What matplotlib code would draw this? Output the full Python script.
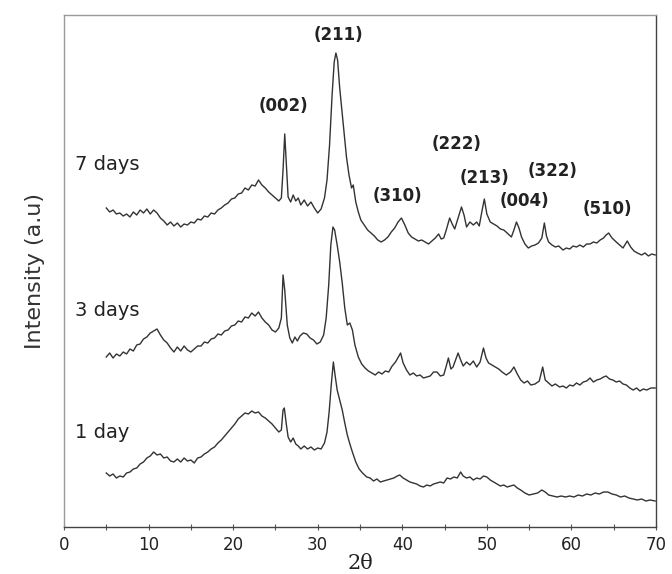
import matplotlib
matplotlib.use("Agg")
import matplotlib.pyplot as plt
from matplotlib.ticker import MultipleLocator

# ---- data (2theta, intensity in arbitrary units, stacked as in the figure) ----
tt_7d = [5.0, 5.4, 5.8, 6.2, 6.6, 7.0, 7.4, 7.8, 8.2, 8.6, 9.0, 9.4, 9.8, 10.2, 10.6, 11.0, 11.4, 11.8,
         12.2, 12.6, 13.0, 13.4, 13.8, 14.2, 14.6, 15.0, 15.4, 15.8, 16.2, 16.6, 17.0, 17.4, 17.8, 18.2,
         18.6, 19.0, 19.4, 19.8, 20.2, 20.6, 21.0, 21.4, 21.8, 22.2, 22.6, 23.0, 23.4, 23.8, 24.2, 24.6,
         25.0, 25.4, 25.7, 25.9, 26.1, 26.3, 26.5, 26.8, 27.1, 27.4, 27.7, 28.0, 28.4, 28.8, 29.2, 29.6,
         30.0, 30.4, 30.8, 31.1, 31.4, 31.7, 31.95, 32.15, 32.35, 32.6, 32.8, 33.0, 33.2, 33.4, 33.7,
         34.0, 34.2, 34.5, 34.8, 35.1, 35.5, 35.9, 36.3, 36.7, 37.1, 37.5, 37.9, 38.3, 38.7, 39.1, 39.5,
         39.9, 40.3, 40.7, 41.1, 41.5, 41.9, 42.3, 42.7, 43.1, 43.5, 43.9, 44.3, 44.6, 44.9, 45.2, 45.6,
         45.9, 46.2, 46.6, 47.0, 47.3, 47.6, 48.0, 48.4, 48.8, 49.1, 49.4, 49.7, 50.0, 50.4, 50.8, 51.2,
         51.6, 52.0, 52.4, 52.9, 53.2, 53.5, 53.8, 54.1, 54.5, 54.9, 55.3, 55.7, 56.1, 56.5, 56.8, 57.05,
         57.3, 57.7, 58.1, 58.5, 59.0, 59.4, 59.8, 60.2, 60.6, 61.0, 61.4, 61.8, 62.2, 62.6, 63.0, 63.4,
         63.8, 64.1, 64.4, 64.8, 65.3, 65.7, 66.1, 66.6, 67.0, 67.4, 67.8, 68.3, 68.7, 69.1, 69.5, 69.9]
int_7d = [319, 315, 317, 313, 314, 311, 313, 310, 315, 312, 317, 314, 318, 313, 317, 314, 309, 306,
          302, 305, 301, 304, 300, 303, 302, 305, 304, 308, 307, 311, 310, 314, 313, 317,
          319, 322, 324, 328, 329, 333, 334, 339, 337, 342, 341, 347, 342, 339, 335, 332,
          329, 326, 329, 357, 393, 362, 330, 325, 332, 326, 329, 322, 327, 321, 325, 319,
          314, 318, 329, 347, 382, 432, 465, 474, 467, 439, 422, 405, 387, 370, 352,
          339, 342, 325, 315, 307, 302, 297, 294, 291, 287, 285, 287, 290, 295, 299, 305,
          309, 302, 294, 290, 288, 286, 287, 285, 283, 286, 289, 293, 288, 289, 297, 309,
          303, 298, 309, 320, 312, 300, 305, 302, 305, 301, 315, 328, 313, 305, 303, 301,
          298, 297, 294, 290, 297, 305, 299, 290, 283, 279, 281, 282, 284, 289, 304, 291,
          285, 282, 280, 281, 277, 279, 278, 281, 280, 282, 280, 283, 283, 285, 284, 287,
          289, 292, 294, 289, 285, 282, 279, 286, 280, 276, 274, 272, 274, 271, 273, 272]

tt_3d = [5.0, 5.4, 5.8, 6.2, 6.6, 7.0, 7.4, 7.8, 8.2, 8.6, 9.0, 9.4, 9.8, 10.2, 10.6, 11.0, 11.4, 11.8,
         12.2, 12.6, 13.0, 13.4, 13.8, 14.2, 14.6, 15.0, 15.4, 15.8, 16.2, 16.6, 17.0, 17.4, 17.8, 18.2,
         18.6, 19.0, 19.4, 19.8, 20.2, 20.6, 21.0, 21.4, 21.8, 22.2, 22.6, 23.0, 23.4, 23.8, 24.2, 24.6,
         25.0, 25.4, 25.7, 25.9, 26.1, 26.4, 26.7, 27.0, 27.3, 27.6, 27.9, 28.3, 28.7, 29.1, 29.5, 29.9,
         30.3, 30.7, 31.0, 31.3, 31.55, 31.8, 32.0, 32.3, 32.6, 32.9, 33.2, 33.5, 33.8, 34.1, 34.4, 34.8,
         35.2, 35.6, 36.0, 36.4, 36.8, 37.2, 37.6, 38.0, 38.4, 38.8, 39.2, 39.6, 39.8, 40.1, 40.5, 40.9,
         41.3, 41.7, 42.1, 42.5, 42.9, 43.3, 43.7, 44.1, 44.5, 44.9, 45.2, 45.45, 45.75, 46.0, 46.3, 46.6,
         46.9, 47.2, 47.6, 48.0, 48.4, 48.8, 49.2, 49.6, 49.9, 50.2, 50.6, 51.0, 51.4, 51.8, 52.3, 52.8,
         53.2, 53.6, 54.0, 54.4, 54.8, 55.2, 55.7, 56.2, 56.6, 56.9, 57.3, 57.7, 58.1, 58.6, 59.0, 59.4,
         59.8, 60.2, 60.6, 61.0, 61.4, 61.8, 62.2, 62.6, 63.0, 63.4, 63.8, 64.1, 64.5, 64.9, 65.3, 65.7,
         66.1, 66.5, 66.9, 67.3, 67.7, 68.1, 68.5, 68.9, 69.4, 69.9]
int_3d = [170, 174, 169, 173, 171, 175, 173, 178, 176, 182, 183, 188, 190, 194, 196, 198, 192, 187,
          184, 179, 175, 180, 176, 181, 177, 175, 178, 181, 181, 185, 184, 188, 189, 193,
          192, 196, 197, 201, 202, 206, 205, 210, 209, 214, 211, 215, 209, 205, 202, 197,
          195, 199, 209, 252, 237, 202, 189, 184, 190, 186, 191, 194, 193, 189, 187, 183,
          185, 192, 209, 242, 282, 300, 297, 282, 265, 244, 219, 202, 204, 197, 182, 170,
          163, 159, 156, 154, 152, 155, 153, 156, 155, 161, 165, 171, 174, 164, 157, 152,
          154, 151, 152, 149, 150, 151, 155, 155, 151, 152, 161, 169, 158, 160, 167, 174,
          167, 161, 165, 162, 166, 160, 165, 179, 169, 164, 162, 160, 158, 155, 152, 155,
          160, 153, 147, 144, 146, 142, 143, 146, 160, 147, 144, 141, 143, 140, 141, 139,
          142, 141, 144, 142, 145, 146, 149, 145, 147, 148, 150, 151, 148, 147, 145, 146,
          143, 142, 139, 137, 139, 136, 138, 137, 139, 139]

tt_1d = [5.0, 5.4, 5.8, 6.2, 6.6, 7.0, 7.4, 7.8, 8.2, 8.6, 9.0, 9.4, 9.8, 10.2, 10.6, 11.0, 11.4, 11.8,
         12.2, 12.6, 13.0, 13.4, 13.8, 14.2, 14.6, 15.0, 15.4, 15.8, 16.2, 16.6, 17.0, 17.4, 17.8, 18.2,
         18.6, 19.0, 19.4, 19.8, 20.2, 20.6, 21.0, 21.4, 21.8, 22.2, 22.6, 23.0, 23.4, 23.8, 24.2, 24.6,
         25.0, 25.4, 25.7, 25.9, 26.05, 26.3, 26.5, 26.8, 27.1, 27.4, 27.7, 28.0, 28.4, 28.8, 29.2, 29.6,
         30.0, 30.4, 30.8, 31.1, 31.35, 31.6, 31.85, 32.05, 32.3, 32.6, 32.9, 33.2, 33.5, 33.8, 34.1,
         34.5, 34.9, 35.3, 35.8, 36.2, 36.6, 37.0, 37.4, 37.8, 38.2, 38.6, 39.0, 39.4, 39.7, 40.1, 40.5,
         40.9, 41.3, 41.7, 42.1, 42.5, 42.9, 43.3, 43.7, 44.1, 44.5, 44.9, 45.3, 45.7, 46.1, 46.5, 46.9,
         47.2, 47.6, 48.0, 48.4, 48.8, 49.2, 49.6, 50.0, 50.4, 50.8, 51.2, 51.6, 52.0, 52.4, 52.8, 53.2,
         53.6, 54.0, 54.5, 55.0, 55.5, 56.0, 56.5, 56.9, 57.3, 57.8, 58.3, 58.8, 59.3, 59.8, 60.3, 60.8,
         61.3, 61.8, 62.3, 62.8, 63.3, 63.8, 64.3, 64.8, 65.3, 65.8, 66.3, 66.8, 67.3, 67.8, 68.3, 68.8,
         69.3, 69.9]
int_1d = [54, 51, 53, 49, 51, 50, 54, 55, 58, 59, 63, 65, 69, 71, 75, 72, 73, 69,
          70, 66, 65, 68, 65, 69, 66, 67, 64, 69, 70, 73, 75, 78, 80, 84,
          87, 91, 95, 99, 103, 108, 111, 114, 113, 116, 114, 115, 111, 109, 106, 103,
          99, 95, 97, 117, 119, 102, 90, 85, 89, 83, 81, 78, 81, 78, 80, 77,
          79, 78, 84, 95, 115, 142, 165, 152, 137, 127, 117, 104, 92, 83, 75,
          65, 58, 54, 50, 49, 46, 48, 45, 46, 47, 48, 49, 51, 52, 49, 47,
          45, 44, 43, 41, 40, 42, 41, 43, 44, 45, 44, 49, 48, 50, 49, 55,
          51, 49, 50, 47, 49, 48, 51, 50, 47, 45, 43, 41, 42, 40, 41, 42,
          39, 37, 34, 32, 33, 34, 37, 35, 32, 31, 30, 31, 30, 31, 30, 32,
          31, 33, 32, 34, 33, 35, 35, 33, 32, 30, 31, 29, 28, 27, 28, 26,
          27, 26]

series_labels = ["7 days", "3 days", "1 day"]
label_pos = [(1.3, 362), (1.3, 217), (1.3, 94)]

peak_labels = ["(211)", "(002)", "(310)", "(222)", "(213)", "(004)", "(322)", "(510)"]
peak_pos = [(32.4, 492), (25.9, 421), (39.4, 331), (46.4, 383), (49.7, 349), (54.4, 326), (57.8, 356), (64.2, 318)]

x_ticks = [0, 10, 20, 30, 40, 50, 60, 70]

# ---- figure ----
fig = plt.figure(figsize=(6.72, 5.74), dpi=100)
ax = fig.add_axes([64 / 672, 1 - 527 / 574, (656 - 64) / 672, (527 - 15) / 574])

lc = "#333333"
for tt, yy in [(tt_7d, int_7d), (tt_3d, int_3d), (tt_1d, int_1d)]:
    ax.plot(tt, yy, color=lc, lw=1.0)

for lab, (x, y) in zip(series_labels, label_pos):
    ax.text(x, y, lab, fontsize=14, color="#222222", ha="left", va="center", family="DejaVu Sans")

for lab, (x, y) in zip(peak_labels, peak_pos):
    ax.text(x, y, lab, fontsize=12, fontweight="bold", color="#222222", ha="center", va="center",
            family="DejaVu Sans")

ax.set_xlim(0, 70)
ax.set_ylim(0, 512)
ax.set_xticks(x_ticks)
ax.xaxis.set_minor_locator(MultipleLocator(5))
ax.tick_params(axis="x", which="both", direction="inout", length=5, width=0.8, color="#555555",
               labelsize=12, labelcolor="#222222", pad=4)
ax.set_yticks([])
for s in ["top", "left"]:
    ax.spines[s].set_color("#9a9a9a")
for s in ["bottom", "right"]:
    ax.spines[s].set_color("#444444")
for s in ax.spines.values():
    s.set_linewidth(1.0)

ax.set_xlabel("2θ", fontsize=15, family="DejaVu Serif", labelpad=0, color="#222222")
ax.set_ylabel("Intensity (a.u)", fontsize=16, color="#333333", labelpad=14)

fig.savefig("out.png", dpi=100)
